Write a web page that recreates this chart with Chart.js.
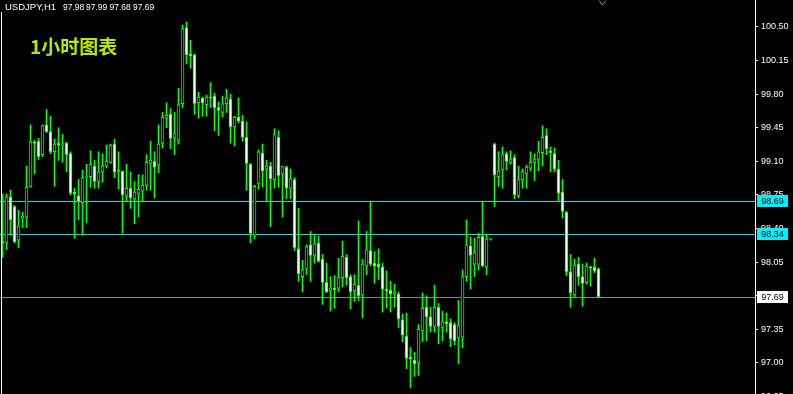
<!DOCTYPE html>
<html>
<head>
<meta charset="utf-8">
<script src="https://cdn.jsdelivr.net/npm/chart.js@4.4.1/dist/chart.umd.min.js"></script>
<style>
html,body{margin:0;padding:0;background:#000;overflow:hidden;}
#c{display:block;}
</style>
</head>
<body>
<canvas id="c" width="793" height="394"></canvas>
<script>
const symbolTitle = "USDJPY,H1";
const headerValues = ["97.98", "97.99", "97.68", "97.69"];
const chartLabel = "1小时图表";

const opens = [98.27,98.25,98.73,98.63,98.28,98.51,98.52,98.84,99.30,99.31,
99.17,99.48,99.41,99.20,99.29,99.27,99.29,99.18,98.78,98.74,
98.67,98.93,98.94,99.05,98.89,98.99,99.05,99.09,99.28,98.99,
99.00,98.74,98.82,98.71,98.76,98.79,98.85,99.08,99.10,99.06,
99.29,99.55,99.59,99.35,99.32,99.70,100.49,100.22,100.21,99.71,
99.76,99.69,99.77,99.78,99.66,99.61,99.70,99.75,99.46,99.56,
99.52,99.35,99.07,98.33,98.87,99.19,99.02,99.05,98.91,99.35,
98.97,99.04,98.82,98.91,98.19,97.90,97.98,98.23,98.12,98.25,
98.08,97.84,97.75,97.78,97.78,97.89,98.10,97.90,97.75,97.81,
97.71,98.01,98.17,98.04,98.03,98.00,97.77,97.76,97.72,97.72,
97.45,97.28,97.06,97.03,97.00,97.34,97.58,97.48,97.38,97.58,
97.37,97.43,97.42,97.40,97.26,97.27,97.90,98.22,98.03,98.03,
98.32,98.00,98.29,99.28,98.94,99.01,99.18,99.09,99.14,98.74,
98.91,98.97,99.03,99.09,99.12,99.19,99.37,99.21,99.18,99.02,
98.78,98.57,97.95,97.71,98.03,97.90,97.84,98.00,98.00,97.98];

const highs = [98.76,98.76,98.80,98.64,98.59,98.57,99.05,99.48,99.32,99.34,
99.48,99.64,99.57,99.33,99.45,99.38,99.30,99.20,98.82,98.91,
99.01,99.07,99.21,99.11,99.20,99.18,99.27,99.28,99.33,99.20,
99.00,99.07,98.99,98.89,98.96,98.96,99.17,99.31,99.20,99.48,
99.61,99.71,99.65,99.61,99.86,100.52,100.55,100.36,100.22,99.82,
99.77,99.79,99.92,99.81,99.72,99.78,99.85,99.80,99.57,99.76,
99.58,99.51,99.08,98.85,99.22,99.28,99.11,99.09,99.44,99.42,
99.05,99.05,99.02,98.93,98.61,98.07,98.23,98.37,98.33,98.32,
98.13,98.04,97.90,97.91,98.09,98.27,98.13,97.92,97.92,98.48,
98.08,98.37,98.68,98.16,98.19,98.04,97.96,97.85,97.82,97.74,
97.51,97.52,97.16,97.11,97.40,97.73,97.70,97.58,97.81,97.62,
97.54,97.52,97.46,97.42,97.65,97.97,98.49,98.31,98.30,98.35,
98.68,98.33,98.30,99.29,99.20,99.25,99.20,99.21,99.17,99.05,
99.02,99.06,99.20,99.18,99.31,99.47,99.44,99.25,99.24,99.11,
98.91,98.58,98.13,98.08,98.10,98.03,98.04,98.01,98.09,97.99];

const lows = [98.10,98.18,98.33,98.25,98.20,98.41,98.41,98.83,98.97,99.12,
99.15,99.40,99.18,98.84,99.11,99.09,98.99,98.75,98.30,98.49,
98.33,98.46,98.83,98.82,98.82,98.88,99.03,99.08,98.93,98.81,
98.35,98.68,98.61,98.45,98.52,98.68,98.80,98.80,98.72,98.98,
99.24,99.45,99.23,99.17,99.28,99.66,100.12,100.07,99.59,99.55,
99.57,99.57,99.66,99.42,99.37,99.56,99.61,99.29,99.26,99.50,
99.31,98.80,98.25,98.29,98.81,98.83,98.68,98.42,98.82,98.83,
98.52,98.71,98.71,98.17,97.85,97.74,97.92,97.85,98.04,98.05,
97.61,97.73,97.54,97.57,97.74,97.79,97.81,97.56,97.64,97.65,
97.47,97.92,98.01,97.83,97.87,97.53,97.57,97.53,97.58,97.37,
97.22,96.94,96.74,96.86,96.87,97.22,97.23,97.32,97.32,97.20,
97.23,97.32,97.17,97.19,96.99,97.16,97.85,97.77,97.90,97.97,
98.00,97.92,98.28,98.63,98.84,98.82,99.01,99.07,98.71,98.72,
98.82,98.82,99.00,98.90,99.00,99.05,99.17,98.99,98.99,98.69,
98.51,97.91,97.58,97.68,97.81,97.59,97.82,97.80,97.94,97.68];

const closes = [98.25,98.73,98.49,98.26,98.43,98.53,98.83,99.30,99.29,99.15,
99.47,99.41,99.20,99.28,99.27,99.28,99.17,98.77,98.76,98.68,
98.93,98.94,99.07,98.89,98.99,99.05,99.10,99.27,98.99,99.01,
98.75,98.82,98.72,98.78,98.81,98.85,99.09,99.11,99.04,99.28,
99.56,99.58,99.34,99.39,99.69,100.48,100.21,100.20,99.70,99.77,
99.71,99.77,99.76,99.66,99.63,99.70,99.76,99.46,99.56,99.52,
99.35,99.08,98.35,98.84,99.20,99.00,99.05,98.92,99.38,98.95,
99.05,98.82,98.92,98.20,97.93,97.97,98.21,98.12,98.24,98.06,
97.84,97.74,97.78,97.76,97.89,98.11,97.89,97.74,97.82,97.70,
98.03,98.18,98.03,98.01,98.00,97.77,97.75,97.72,97.74,97.46,
97.29,97.05,97.04,96.99,97.35,97.57,97.48,97.38,97.58,97.38,
97.43,97.41,97.25,97.23,97.39,97.90,98.23,98.12,98.15,98.31,
98.01,98.29,98.29,98.96,99.00,99.17,99.10,99.12,98.75,98.91,
98.99,99.04,99.09,99.12,99.20,99.35,99.23,99.19,99.02,98.77,
98.58,97.95,97.73,98.02,97.90,97.83,98.01,97.99,97.96,97.69];

const tickValues = [96.65,97.00,97.35,97.70,98.05,98.40,98.75,99.10,99.45,99.80,100.15,100.50];
const levelValues = [98.69, 98.34, 97.69];
const levelColors = ["#1ED6E6", "#1ED6E6", "#778899"];
const levelBoxColors = ["#00F0FF", "#00F0FF", "#FFFFFF"];

const yMin = 96.677, yMax = 100.781;

const wickData = opens.map((o, i) => ({x: i, y: [lows[i], highs[i]]}));
const bodyData = opens.map((o, i) => ({x: i, y: [o, closes[i]]}));
const bodyFill = opens.map((o, i) => closes[i] < o ? "#FFFFFF" : "#000000");

const LIME = "#00FF00";
const SMALL_FONT = "'Liberation Sans', Arial, sans-serif";

const overlay = {
  id: "overlay",
  beforeDatasetsDraw(chart) {
    const ctx = chart.ctx, ys = chart.scales.y, a = chart.chartArea;
    ctx.save();
    ctx.lineWidth = 1;
    levelValues.forEach((v, k) => {
      const py = Math.round(ys.getPixelForValue(v)) + 0.5;
      ctx.strokeStyle = levelColors[k];
      ctx.beginPath();
      ctx.moveTo(a.left, py);
      ctx.lineTo(a.right, py);
      ctx.stroke();
    });
    ctx.restore();
  },
  afterDraw(chart) {
    const ctx = chart.ctx, ys = chart.scales.y, a = chart.chartArea;
    ctx.save();
    ctx.font = "9px " + SMALL_FONT;
    ctx.textAlign = "center";
    ctx.textBaseline = "middle";
    levelValues.forEach((v, k) => {
      const py = Math.round(ys.getPixelForValue(v));
      ctx.fillStyle = levelBoxColors[k];
      ctx.fillRect(a.right + 2, py - 6, 31, 12);
      ctx.fillStyle = "#000000";
      ctx.fillText(v.toFixed(2), a.right + 17.5, py + 0.5);
    });
    ctx.fillStyle = "#FFFFFF";
    ctx.fillRect(1, 12, 1, 394);
    ctx.textAlign = "left";
    ctx.textBaseline = "alphabetic";
    ctx.fillStyle = "#FFFFFF";
    ctx.font = "9.5px " + SMALL_FONT;
    ctx.fillText(symbolTitle, 5, 10);
    ctx.font = "8.5px " + SMALL_FONT;
    const hx = [63, 86, 109.5, 133];
    headerValues.forEach((t, k) => ctx.fillText(t, hx[k], 10));
    ctx.fillStyle = "#B8E800";
    ctx.font = "bold 19px 'Noto Sans CJK SC', sans-serif";
    ctx.fillText(chartLabel, 30, 54);
    ctx.strokeStyle = "#8899AA";
    ctx.lineWidth = 1;
    ctx.beginPath();
    ctx.moveTo(599, 0.5);
    ctx.lineTo(602.5, 5);
    ctx.lineTo(606, 0.5);
    ctx.stroke();
    ctx.restore();
  }
};

new Chart(document.getElementById("c"), {
  type: "bar",
  data: {
    datasets: [
      {
        label: "wick",
        data: wickData,
        backgroundColor: LIME,
        borderWidth: 0,
        barThickness: 1,
        grouped: false,
        order: 2
      },
      {
        label: "body",
        data: bodyData,
        backgroundColor: bodyFill,
        borderColor: LIME,
        borderWidth: 1,
        borderSkipped: false,
        barThickness: 3,
        minBarLength: 1,
        grouped: false,
        order: 1
      }
    ]
  },
  options: {
    responsive: false,
    animation: false,
    devicePixelRatio: 1,
    layout: {padding: 0},
    plugins: {legend: {display: false}, tooltip: {enabled: false}},
    scales: {
      x: {
        type: "linear",
        display: false,
        offset: false,
        min: -0.625,
        max: 188.125,
        grid: {display: false}
      },
      y: {
        type: "linear",
        position: "right",
        min: yMin,
        max: yMax,
        beginAtZero: false,
        afterFit(scale) {
          scale.width = 38;
          scale.paddingTop = 0;
          scale.paddingBottom = 0;
        },
        afterBuildTicks(scale) { scale.ticks = tickValues.map(v => ({value: v})); },
        grid: {display: true, drawOnChartArea: false, drawTicks: true, tickLength: 3, tickColor: "#FFFFFF", color: "#FFFFFF"},
        border: {display: true, color: "#FFFFFF", width: 1},
        ticks: {
          color: "#FFFFFF",
          padding: 3,
          font: {family: SMALL_FONT, size: 9},
          callback: (v) => Number(v).toFixed(2)
        }
      }
    }
  },
  plugins: [overlay]
});
</script>
</body>
</html>
